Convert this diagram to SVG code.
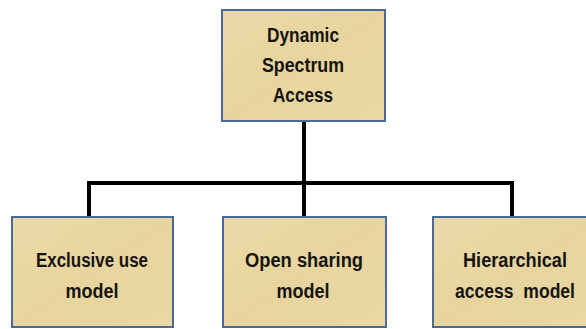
<svg xmlns="http://www.w3.org/2000/svg" width="586" height="329" viewBox="0 0 586 329">
<defs>
<linearGradient id="paper" x1="0" y1="0" x2="1" y2="1">
<stop offset="0" stop-color="#EBDAA9"/>
<stop offset="0.5" stop-color="#E7D49E"/>
<stop offset="1" stop-color="#EAD8A5"/>
</linearGradient>
</defs>
<style>
.box{fill:url(#paper);stroke:#4A6A9C;stroke-width:2}
.t{font-family:"Liberation Sans",Arial,sans-serif;font-size:20px;font-weight:bold;fill:#161410;text-anchor:middle;white-space:pre}
.c{fill:none;stroke:#000;stroke-width:4;stroke-linejoin:miter}
</style>
<rect width="586" height="329" fill="#fff"/>
<g id="connectors">
<path class="c" d="M304 121 V183"/>
<path class="c" d="M89 217 V183 H512 V217"/>
<path class="c" d="M304 183 V217"/>
</g>
<g id="dsa">
<rect class="box" x="222" y="10" width="163" height="111"/>
<text class="t" x="303" y="42" textLength="72" lengthAdjust="spacingAndGlyphs">Dynamic</text>
<text class="t" x="303" y="72" textLength="82" lengthAdjust="spacingAndGlyphs">Spectrum</text>
<text class="t" x="303" y="102" textLength="60" lengthAdjust="spacingAndGlyphs">Access</text>
</g>
<g id="exclusive">
<rect class="box" x="12" y="217" width="161" height="110"/>
<text class="t" x="92" y="267" textLength="112" lengthAdjust="spacingAndGlyphs">Exclusive use</text>
<text class="t" x="92" y="298" textLength="53" lengthAdjust="spacingAndGlyphs">model</text>
</g>
<g id="open">
<rect class="box" x="223" y="217" width="163" height="110"/>
<text class="t" x="304" y="267" textLength="118" lengthAdjust="spacingAndGlyphs">Open sharing</text>
<text class="t" x="303" y="298" textLength="53" lengthAdjust="spacingAndGlyphs">model</text>
</g>
<g id="hierarchical">
<rect class="box" x="433" y="217" width="164" height="110"/>
<text class="t" x="515" y="267" textLength="104" lengthAdjust="spacingAndGlyphs">Hierarchical</text>
<text class="t" x="515" y="298" textLength="120" lengthAdjust="spacingAndGlyphs" xml:space="preserve">access  model</text>
</g>
</svg>
